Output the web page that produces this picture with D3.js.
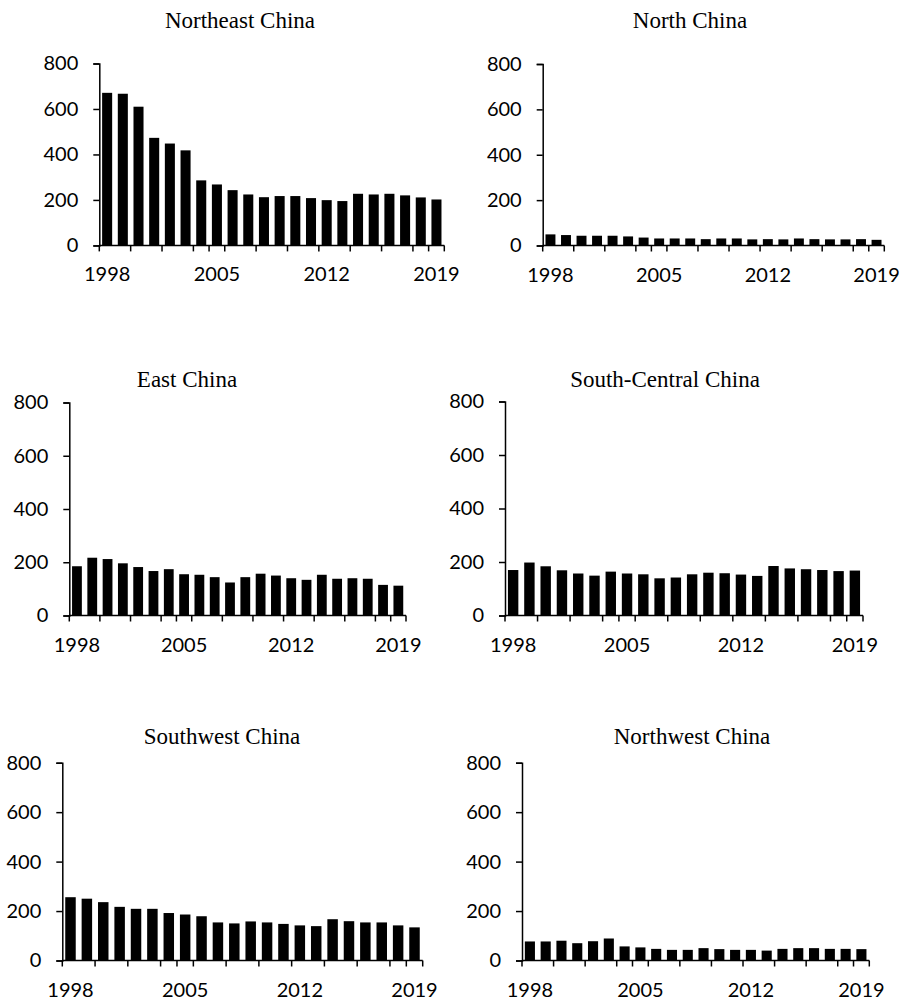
<!DOCTYPE html>
<html>
<head>
<meta charset="utf-8">
<script src="https://cdn.jsdelivr.net/npm/d3@7/dist/d3.min.js"></script>
<style>
  html, body { margin: 0; padding: 0; background: #fff; }
  svg { display: block; }
</style>
</head>
<body>
<script>
const years = ["1998","1999","2000","2001","2002","2003","2004","2005","2006","2007","2008","2009","2010","2011","2012","2013","2014","2015","2016","2017","2018","2019"];
const xTickLabels = ["1998","2005","2012","2019"];
const yTicks = [0, 200, 400, 600, 800];

const northeast    = [671,667,610,473,448,418,286,268,243,224,212,217,217,208,199,195,227,224,227,220,211,202];
const north        = [49,46,43,43,43,40,35,31,31,31,28,31,31,27,28,27,31,28,27,27,28,25];
const east         = [185,217,212,196,182,167,174,155,153,144,124,144,157,150,140,134,153,138,140,138,115,112];
const southCentral = [170,198,184,169,157,149,164,157,154,139,142,154,160,158,153,148,185,176,173,170,166,168];
const southwest    = [256,250,236,217,209,209,192,186,179,154,150,158,154,148,142,139,167,159,154,154,142,134];
const northwest    = [77,77,80,70,78,89,57,53,47,43,43,50,46,43,43,40,47,50,50,47,47,46];

const titles = ["Northeast China","North China","East China","South-Central China","Southwest China","Northwest China"];
const seriesList = [northeast, north, east, southCentral, southwest, northwest];

// layout for each panel (pixel frame of the plot area)
const frames = [
  {l: 99.3,  r: 444.3, t: 63.5,  b: 245.4, tx: 240, ty: 28},
  {l: 542.7, r: 884.3, t: 64,    b: 245.5, tx: 690, ty: 28},
  {l: 69.3,  r: 406,   t: 402.5, b: 615.5, tx: 187, ty: 387},
  {l: 505,   r: 863,   t: 401.5, b: 615.5, tx: 665, ty: 387},
  {l: 62.3,  r: 422.7, t: 762.7, b: 960.5, tx: 222, ty: 744},
  {l: 522,   r: 869.3, t: 762.7, b: 960.5, tx: 692, ty: 744}
];

const W = 906, H = 999;
const svg = d3.select("body").append("svg").attr("width", W).attr("height", H);

const labelFont = "Lato, 'Open Sans', sans-serif";
const titleFont = "'Liberation Serif', 'DejaVu Serif', serif";

seriesList.forEach((vals, i) => {
  const f = frames[i];
  const g = svg.append("g");
  const x = d3.scaleBand().domain(years).range([f.l, f.r]).paddingInner(0.36).paddingOuter(0.18);
  const y = d3.scaleLinear().domain([0, 800]).range([f.b, f.t]);

  // title
  g.append("text")
    .attr("x", f.tx).attr("y", f.ty)
    .attr("text-anchor", "middle")
    .style("font-family", titleFont)
    .style("font-size", "23px")
    .attr("fill", "#000")
    .text(titles[i]);

  // bars
  g.selectAll("rect.bar").data(years.map((yr, k) => ({yr, v: vals[k]})))
    .join("rect").attr("class", "bar")
    .attr("x", d => x(d.yr))
    .attr("width", x.bandwidth())
    .attr("y", d => y(d.v))
    .attr("height", d => y(0) - y(d.v))
    .attr("fill", "#000");

  // y axis
  const ya = g.append("g").attr("transform", `translate(${f.l},0)`)
    .call(d3.axisLeft(y).tickValues(yTicks).tickSize(6).tickPadding(15).tickFormat(d3.format("d")));
  ya.selectAll("path.domain").attr("stroke", "#000").attr("stroke-width", 1.5);
  ya.selectAll(".tick line").attr("stroke", "#000").attr("stroke-width", 1.5);
  ya.selectAll(".tick text").style("font-family", labelFont).style("font-size", "20px").attr("fill", "#000");

  // x axis: baseline line
  g.append("line")
    .attr("x1", f.l).attr("x2", f.r)
    .attr("y1", y(0)).attr("y2", y(0))
    .attr("stroke", "#000").attr("stroke-width", 1.5);

  // category-boundary ticks (every 2 categories, plus every 7)
  const step = x.step();
  const x0 = x.range()[0];
  const boundaries = d3.range(0, years.length + 1).filter(k => k % 2 === 0 || k % 7 === 0);
  g.selectAll("line.xt").data(boundaries).join("line").attr("class", "xt")
    .attr("x1", k => x0 + k * step).attr("x2", k => x0 + k * step)
    .attr("y1", y(0)).attr("y2", y(0) + 6)
    .attr("stroke", "#000").attr("stroke-width", 1.5);

  // x labels
  const xa = g.append("g").attr("transform", `translate(0,${y(0)})`)
    .call(d3.axisBottom(x).tickValues(xTickLabels).tickSize(0).tickPadding(0));
  xa.select("path.domain").remove();
  xa.selectAll(".tick text")
    .attr("y", 36).attr("dy", null)
    .style("font-family", labelFont).style("font-size", "20px").attr("fill", "#000");
});
</script>
</body>
</html>
